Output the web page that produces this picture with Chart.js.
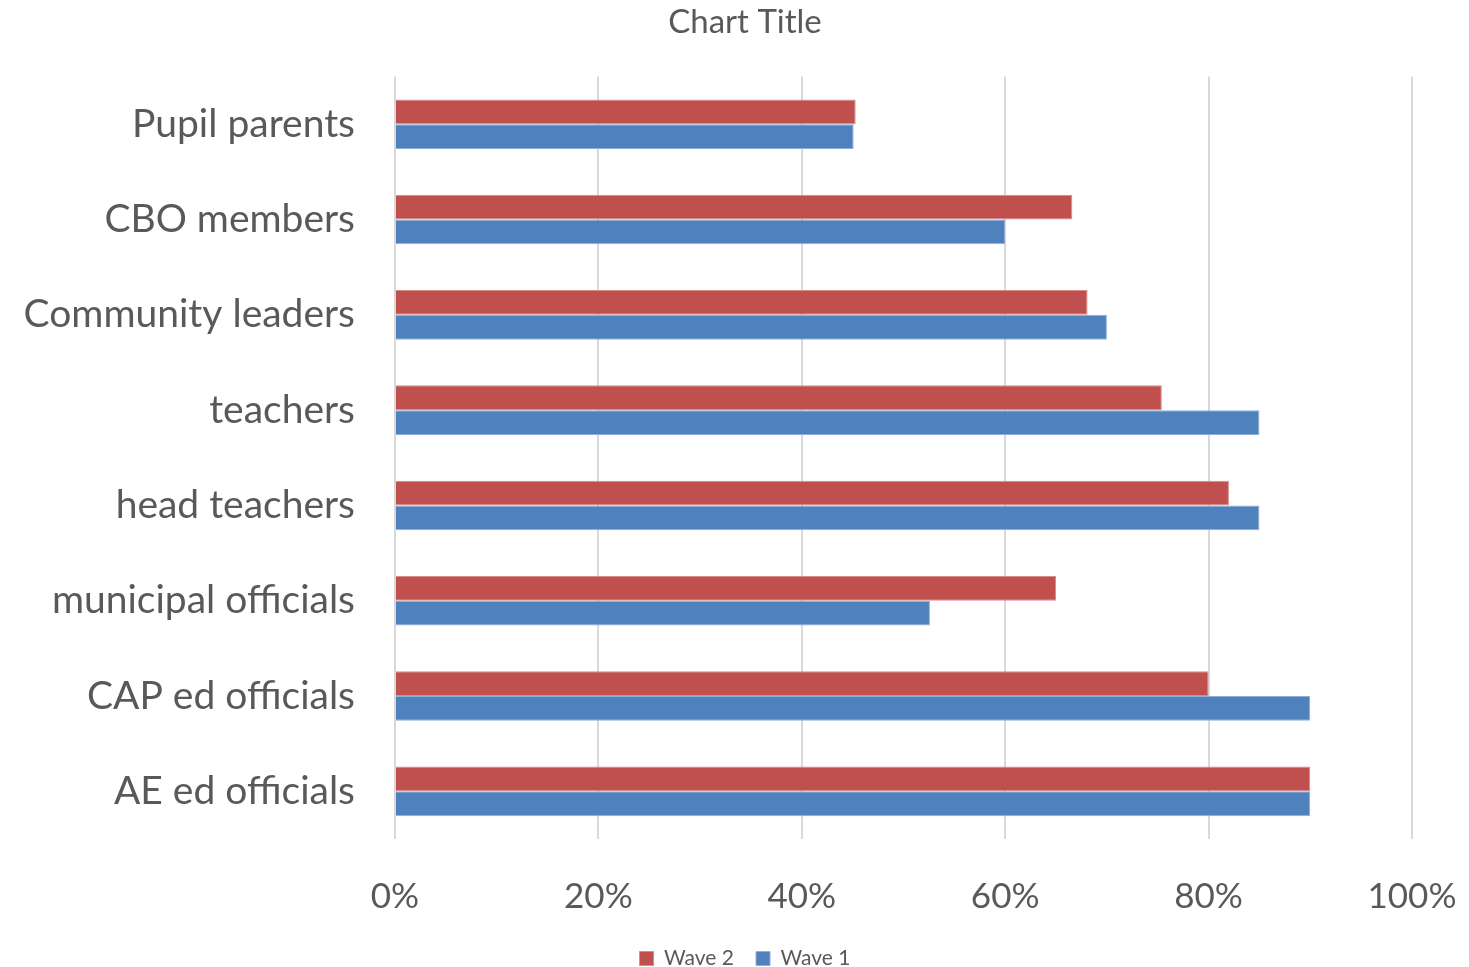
<!DOCTYPE html>
<html>
<head>
<meta charset="utf-8">
<script src="https://cdn.jsdelivr.net/npm/chart.js@4/dist/chart.umd.min.js"></script>
<style>
  html, body { margin: 0; padding: 0; background: #fff; }
  #wrap { width: 1469px; height: 967px; }
</style>
</head>
<body>
<div id="wrap"><canvas id="c" width="1469" height="967"></canvas></div>
<script>
// Respondent groups, top to bottom
const categories = [
  'Pupil parents',
  'CBO members',
  'Community leaders',
  'teachers',
  'head teachers',
  'municipal officials',
  'CAP ed officials',
  'AE ed officials'
];

// Share of each group (%), per survey wave
const wave2 = [45.3, 66.6, 68.1, 75.4, 82.0, 65.0, 80.0, 90.0];
const wave1 = [45.1, 60.0, 70.0, 85.0, 85.0, 52.6, 90.0, 90.0];

// Value axis ticks
const xTicks = [0, 20, 40, 60, 80, 100];

const FONT = 'Lato, "Open Sans", sans-serif';
const TEXT = '#595959';

// Let the long category labels use the margin to the left of the y axis box
const wideLabels = {
  id: 'wideLabels',
  afterLayout(chart) {
    const y = chart.scales.y;
    y.left = 0;
    y.width = y.right;
  }
};

new Chart(document.getElementById('c'), {
  type: 'bar',
  plugins: [wideLabels],
  data: {
    labels: categories,
    datasets: [
      {
        label: 'Wave 2',
        data: wave2,
        backgroundColor: '#C0504D',
        borderColor: '#D58C8A',
        borderWidth: 1,
        categoryPercentage: 0.52,
        barPercentage: 1.0
      },
      {
        label: 'Wave 1',
        data: wave1,
        backgroundColor: '#4F81BD',
        borderColor: '#8EAEDB',
        borderWidth: 1,
        categoryPercentage: 0.52,
        barPercentage: 1.0
      }
    ]
  },
  options: {
    indexAxis: 'y',
    responsive: false,
    animation: false,
    layout: { padding: { left: 21, right: 0, top: 0, bottom: -12 } },
    scales: {
      x: {
        min: 0,
        max: 100,
        afterBuildTicks: (s) => { s.ticks = xTicks.map(v => ({ value: v })); },
        grid: { color: '#D9D9D9', lineWidth: 2, drawTicks: false },
        border: { display: false },
        ticks: {
          color: TEXT,
          font: { family: FONT, size: 35 },
          padding: 37,
          callback: (v) => v + '%'
        },
        afterFit: (s) => {
          s.height = 87;
          s.paddingLeft = 0;
          s.paddingRight = 57;
        }
      },
      y: {
        grid: { display: false },
        border: { display: false },
        ticks: {
          color: TEXT,
          font: { family: FONT, size: 39 },
          padding: 32
        },
        afterFit: (s) => { s.width = 374; }
      }
    },
    plugins: {
      title: {
        display: true,
        text: 'Chart Title',
        color: TEXT,
        font: { family: FONT, size: 33, weight: 'normal' },
        padding: { top: 3, bottom: 34 }
      },
      legend: {
        position: 'bottom',
        labels: {
          color: TEXT,
          font: { family: FONT, size: 21 },
          boxWidth: 14,
          boxHeight: 14,
          padding: 22
        }
      },
      tooltip: { enabled: false }
    }
  }
});
</script>
</body>
</html>
